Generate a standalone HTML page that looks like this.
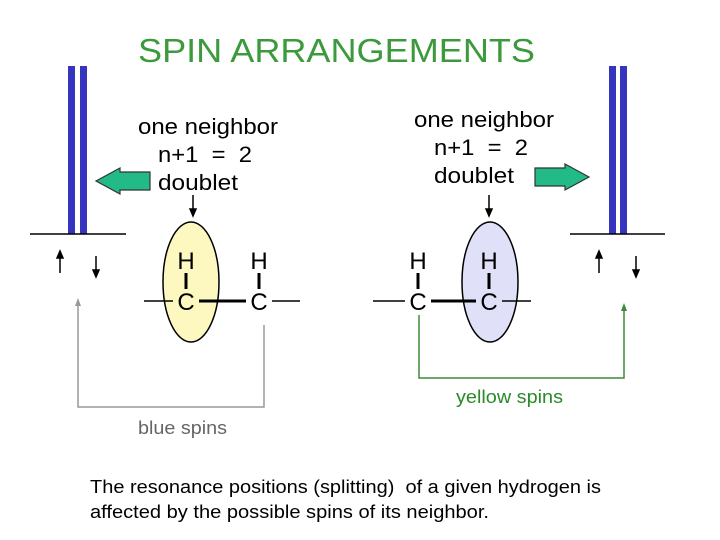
<!DOCTYPE html>
<html><head><style>body{margin:0;background:#fff}svg{display:block}text{white-space:pre}</style></head>
<body>
<svg width="720" height="540" xmlns="http://www.w3.org/2000/svg" font-family="Liberation Sans, Arial, sans-serif">
<text x="138" y="62" font-size="33" fill="#3c9a3c" textLength="397" lengthAdjust="spacingAndGlyphs">SPIN ARRANGEMENTS</text>
<rect x="68" y="66" width="7" height="168" fill="#3535c0"/>
<rect x="80" y="66" width="7" height="168" fill="#3535c0"/>
<line x1="30" y1="234" x2="126" y2="234" stroke="#000" stroke-width="1.5"/>
<g stroke="#000" stroke-width="1.5" fill="#000">
<line x1="60" y1="256" x2="60" y2="273"/><path d="M57,258 L60,251 L63,258Z"/>
<line x1="96" y1="256" x2="96" y2="273"/><path d="M93,270 L96,277 L99,270Z"/>
</g>
<rect x="609" y="66" width="7" height="168" fill="#3535c0"/>
<rect x="620" y="66" width="7" height="168" fill="#3535c0"/>
<line x1="570" y1="234" x2="665" y2="234" stroke="#000" stroke-width="1.5"/>
<g stroke="#000" stroke-width="1.5" fill="#000">
<line x1="599" y1="256" x2="599" y2="273"/><path d="M596,258 L599,251 L602,258Z"/>
<line x1="636" y1="256" x2="636" y2="273"/><path d="M633,270 L636,277 L639,270Z"/>
</g>
<path d="M96,181 L120,168 L120,172 L150,172 L150,190 L120,190 L120,194 Z" fill="#22bb88" stroke="#333" stroke-width="1.2"/>
<path d="M589,177 L565,164 L565,168 L535,168 L535,186 L565,186 L565,190 Z" fill="#22bb88" stroke="#333" stroke-width="1.2"/>
<g font-size="22" fill="#000">
<text x="138" y="134" textLength="140" lengthAdjust="spacingAndGlyphs">one neighbor</text>
<text x="158" y="162" textLength="94" lengthAdjust="spacingAndGlyphs">n+1  =  2</text>
<text x="158" y="190" textLength="80" lengthAdjust="spacingAndGlyphs">doublet</text>
<text x="414" y="127" textLength="140" lengthAdjust="spacingAndGlyphs">one neighbor</text>
<text x="434" y="155" textLength="94" lengthAdjust="spacingAndGlyphs">n+1  =  2</text>
<text x="434" y="183" textLength="80" lengthAdjust="spacingAndGlyphs">doublet</text>
</g>
<g stroke="#000" stroke-width="1.5" fill="#000">
<line x1="193" y1="195" x2="193" y2="212"/><path d="M190,209 L193,216 L196,209Z"/>
<line x1="489" y1="195" x2="489" y2="212"/><path d="M486,209 L489,216 L492,209Z"/>
</g>
<ellipse cx="191" cy="282" rx="28" ry="60" fill="#fcf8c0" stroke="#000" stroke-width="1.5"/>
<ellipse cx="490" cy="282" rx="28" ry="60" fill="#e0e0f8" stroke="#000" stroke-width="1.5"/>
<g font-size="24" fill="#000" text-anchor="middle">
<text x="186" y="269">H</text><text x="186" y="310">C</text>
<text x="259" y="269">H</text><text x="259" y="310">C</text>
<text x="418" y="269">H</text><text x="418" y="310">C</text>
<text x="489" y="269">H</text><text x="489" y="310">C</text>
</g>
<g stroke="#000">
<line x1="186" y1="273" x2="186" y2="289" stroke-width="3"/>
<line x1="259" y1="273" x2="259" y2="289" stroke-width="3"/>
<line x1="418" y1="273" x2="418" y2="289" stroke-width="3"/>
<line x1="489" y1="273" x2="489" y2="289" stroke-width="3"/>
<line x1="144" y1="301" x2="173" y2="301" stroke-width="1.5"/>
<line x1="199" y1="301" x2="246" y2="301" stroke-width="3"/>
<line x1="272" y1="301" x2="300" y2="301" stroke-width="1.5"/>
<line x1="373" y1="301" x2="405" y2="301" stroke-width="1.5"/>
<line x1="431" y1="301" x2="476" y2="301" stroke-width="3"/>
<line x1="502" y1="301" x2="531" y2="301" stroke-width="1.5"/>
</g>
<polyline points="264,325 264,407 78,407 78,305" fill="none" stroke="#999" stroke-width="1.5"/>
<path d="M75,306 L78,298 L81,306Z" fill="#999"/>
<polyline points="419,315 419,378 624,378 624,310" fill="none" stroke="#3c8a3c" stroke-width="1.5"/>
<path d="M621,311 L624,303 L627,311Z" fill="#3c8a3c"/>
<text x="456" y="403" font-size="18" fill="#2a8a2a" textLength="107" lengthAdjust="spacingAndGlyphs">yellow spins</text>
<text x="138" y="434" font-size="18" fill="#666" textLength="89" lengthAdjust="spacingAndGlyphs">blue spins</text>
<text x="90" y="493" font-size="18" fill="#000" textLength="511" lengthAdjust="spacingAndGlyphs">The resonance positions (splitting)  of a given hydrogen is</text>
<text x="90" y="518" font-size="18" fill="#000" textLength="399" lengthAdjust="spacingAndGlyphs">affected by the possible spins of its neighbor.</text>
</svg>
</body></html>
